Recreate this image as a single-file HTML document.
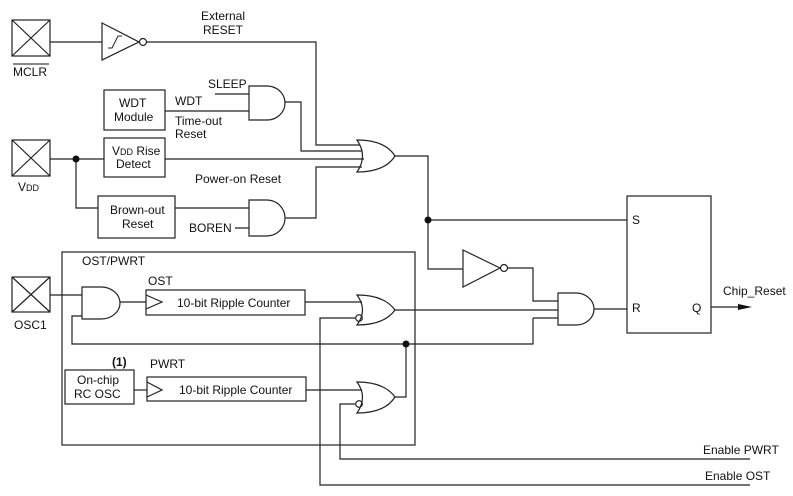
<!DOCTYPE html>
<html><head><style>body{margin:0;background:#fff}svg{display:block}text{font-family:"Liberation Sans",Arial,sans-serif;font-size:12px;fill:#111}</style></head><body>
<svg width="793" height="496" viewBox="0 0 793 496" xmlns="http://www.w3.org/2000/svg">
<g fill="none" stroke="#222" stroke-width="1.2">
<!-- pads -->
<rect x="12" y="20" width="38" height="36"/><path d="M12 20L50 56M50 20L12 56"/>
<rect x="12" y="140" width="38" height="36"/><path d="M12 140L50 176M50 140L12 176"/>
<rect x="12" y="277" width="38" height="35"/><path d="M12 277L50 312M50 277L12 312"/>
<!-- MCLR buffer -->
<path d="M50 42H102"/><path d="M102 23L139 42L102 60Z"/><path d="M108 48h4l6-12h4" stroke-width="1"/>
<circle cx="143" cy="42" r="3.5"/><path d="M147 42H316V145H360"/>
<!-- WDT -->
<rect x="104" y="90" width="61" height="40"/><path d="M165 111H249M215 94H249"/>
<path d="M249 86H267A18 17 0 0 1 267 120H249Z"/>
<path d="M285 102H301V151H362"/>
<!-- VDD -->
<path d="M50 159H104M165 159H364M76 159V208H98"/>
<rect x="104" y="138" width="61" height="39"/>
<rect x="98" y="196" width="77" height="42"/>
<path d="M175 208H249M235 228H249"/>
<path d="M249 200H267A18 18 0 0 1 267 236H249Z"/>
<path d="M285 218H316V167H362"/>
<!-- main OR -->
<path d="M357 140C380 140 390 148 395 156C390 164 380 172 357 172Q368 156 357 140Z"/>
<path d="M395 156H428V269H463M428 220H627"/>
<path d="M463 250L500 268L463 287Z"/><circle cx="504" cy="268" r="3.5"/>
<path d="M508 268H533V301H558M533 318H558M533 318V344H72V316H82"/>
<path d="M558 293H576A18 16 0 0 1 576 325H558Z"/>
<path d="M594 309H627"/>
<rect x="627" y="196" width="84" height="137"/>
<path d="M711 307H740"/>
<!-- OST/PWRT box -->
<rect x="62" y="252" width="353" height="193"/>
<path d="M50 295H82"/>
<path d="M82 287H101A19 16 0 0 1 101 319H82Z"/>
<path d="M120 302H146"/>
<rect x="146" y="290" width="159" height="25"/><path d="M146 295L162 302L146 309"/>
<path d="M305 302H362"/>
<path d="M357 295C380 295 390 303 395 310C390 317 380 325 357 325Q368 310 357 295Z"/>
<circle cx="359" cy="318" r="3.3"/>
<path d="M355 318H320V485H750"/>
<path d="M395 310H558"/>
<rect x="65" y="370" width="69" height="34"/>
<path d="M134 390H147"/>
<rect x="147" y="377" width="159" height="24"/><path d="M147 382L162 390L147 397"/>
<path d="M306 390H362"/>
<path d="M357 382C380 382 390 390 395 397C390 405 380 413 357 413Q368 397 357 382Z"/>
<circle cx="359" cy="404" r="3.3"/>
<path d="M355 404H340V459H750"/>
<path d="M395 397H406V344"/>
</g>
<g fill="#111">
<circle cx="76" cy="159" r="3.5"/><circle cx="428" cy="220" r="3.5"/><circle cx="406" cy="344" r="3.5"/>
<path d="M738 304L752 307L738 310Z"/>
</g>
<g>
<text x="201" y="20">External</text><text x="203" y="34">RESET</text>
<text x="13" y="76">MCLR</text><path d="M13 64H49" stroke="#111"/>
<text x="119" y="107">WDT</text><text x="114" y="121">Module</text>
<text x="175" y="105">WDT</text><text x="175" y="125">Time-out</text><text x="175" y="138">Reset</text>
<text x="208" y="88">SLEEP</text>
<text x="112" y="155">V<tspan font-size="9">DD</tspan> Rise</text><text x="116" y="168">Detect</text>
<text x="18" y="191">V<tspan font-size="9">DD</tspan></text>
<text x="195" y="183">Power-on Reset</text>
<text x="110" y="214">Brown-out</text><text x="122" y="228">Reset</text>
<text x="189" y="232">BOREN</text>
<text x="82" y="265">OST/PWRT</text>
<text x="148" y="285">OST</text>
<text x="177" y="307">10-bit Ripple Counter</text>
<text x="14" y="329">OSC1</text>
<text x="112" y="366" font-weight="bold">(1)</text>
<text x="150" y="368">PWRT</text>
<text x="77" y="384">On-chip</text><text x="74" y="398">RC OSC</text>
<text x="179" y="394">10-bit Ripple Counter</text>
<text x="632" y="224">S</text><text x="632" y="312">R</text><text x="692" y="312">Q</text>
<text x="723" y="295">Chip_Reset</text>
<text x="703" y="454">Enable PWRT</text>
<text x="705" y="480">Enable OST</text>
</g>
</svg>
</body></html>
